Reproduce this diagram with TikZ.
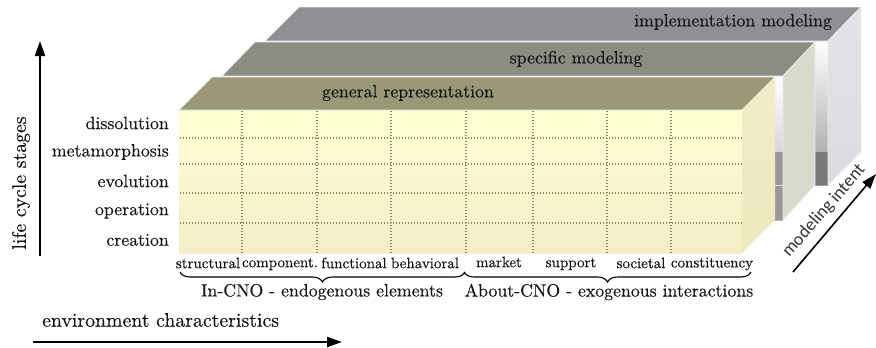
\documentclass[tikz,border=0pt]{standalone}
\usepackage{fontspec}
\newfontfamily\calib{Carlito}
\newfontfamily\rmh{lmroman10-regular.otf}[FakeBold=0.25]
\usetikzlibrary{arrows.meta,decorations.pathreplacing}
\definecolor{txt}{HTML}{141414}
\definecolor{fronttop}{HTML}{FFFFD4}
\definecolor{frontbot}{HTML}{F3EEC6}
\definecolor{frontside}{HTML}{EDE9BE}
\definecolor{gentop}{HTML}{9B9878}
\definecolor{spectop}{HTML}{8B8D82}
\definecolor{specside}{HTML}{D6DBCB}
\definecolor{impltop}{HTML}{918F94}
\definecolor{implside}{HTML}{DCDBE0}
\definecolor{gridc}{HTML}{8C845C}
\begin{document}
\begin{tikzpicture}[x=1pt,y=-1pt,
  lbl/.style={text=txt,inner sep=0pt,font=\rmh\fontsize{17.8}{18}\selectfont},
  rowlbl/.style={lbl,anchor=east},
  collbl/.style={text=txt,inner sep=0pt,font=\rmh\fontsize{15}{15}\selectfont},
  axislbl/.style={text=txt,inner sep=0pt,font=\rmh\fontsize{19.8}{20}\selectfont},
  gridline/.style={draw=gridc,line width=1.3pt,dash pattern=on 1.2pt off 1.8pt},
  edge/.style={draw=white!85!gray,line width=0.8pt},
  axisarrow/.style={draw=black,line width=2pt,-{Triangle[length=15pt,width=10pt]}},
  bracedeco/.style={draw=black,line width=1.1pt,decorate,decoration={brace,mirror,amplitude=10pt}}]
\useasboundingbox (0,0) rectangle (876,348);

% ---------- implementation box (back) ----------
\shade[top color=white,bottom color=gray!80] (265,41) rectangle (828,185);
\fill[gray!95!black] (815,152) rectangle (828,185);
\fill[impltop,edge] (265,41) -- (828,41) -- (861,7) -- (299,7) -- cycle;
\shade[top color=implside!80!white,bottom color=implside,edge] (828,41) -- (861,7) -- (861,152) -- (828,185) -- cycle;

% ---------- specific box ----------
\shade[top color=white,bottom color=gray!60] (222,76) rectangle (783,220);
\fill[gray!110!black!90] (775,152) rectangle (783,220);
\draw[white!80!gray,line width=0.8pt] (775,185) -- (783,185);
\fill[spectop,edge] (222,76) -- (783,76) -- (815,42) -- (255,42) -- cycle;
\fill[specside,edge] (783,76) -- (815,42) -- (815,185) -- (783,220) -- cycle;

% ---------- general box (front) ----------
\shade[top color=fronttop,bottom color=frontbot] (179,110) rectangle (742,253);
\fill[gentop,edge] (179,110) -- (742,110) -- (775,77) -- (212,77) -- cycle;
\shade[top color=frontside!85!white,bottom color=frontside] (742,110) -- (775,77) -- (775,220) -- (742,253) -- cycle;

% grid
\foreach \yy in {138,164,193,223} \draw[gridline] (180,\yy) -- (742,\yy);
\foreach \xx in {242,317,391,466,533,607,671} \draw[gridline] (\xx,111) -- (\xx,253);

% face titles
\node[lbl] (gen) at (408,93) {general representation};
\node[lbl] (spec) at (576,59) {specific modeling};
\node[lbl] (impl) at (733,22) {implementation modeling};

% row labels
\node[rowlbl] (r5) at (169,123) {dissolution};
\node[rowlbl] (r4) at (169,152) {metamorphosis};
\node[rowlbl] (r3) at (169,181) {evolution};
\node[rowlbl] (r2) at (169,211) {operation};
\node[rowlbl] (r1) at (169,240) {creation};

% column labels
\node[collbl] (c1) at (208,263) {structural};
\node[collbl] (c2) at (280,264) {component.};
\node[collbl] (c3) at (354,263) {functional};
\node[collbl] (c4) at (425,263) {behavioral};
\node[collbl] (c5) at (499,262) {market};
\node[collbl] (c6) at (571,264) {support};
\node[collbl] (c7) at (641,263) {societal};
\node[collbl] (c8) at (712,264) {constituency};

% braces
\coordinate (b1s) at (180,272);
\coordinate (b1e) at (465,272);
\coordinate (b2s) at (464,272);
\coordinate (b2e) at (751,272);
\draw[bracedeco] (b1s) -- (b1e);
\draw[bracedeco] (b2s) -- (b2e);
\node[lbl] (g1) at (322,292) {In-CNO - endogenous elements};
\node[lbl] (g2) at (609,292) {About-CNO - exogenous interactions};

% axes
\coordinate (ya) at (40,256);
\coordinate (yb) at (40,41);
\draw[axisarrow] (ya) -- (yb);
\node[axislbl,rotate=90] (ylab) at (21,183) {life cycle stages};

\coordinate (xa) at (33,342);
\coordinate (xb) at (342,342);
\draw[axisarrow] (xa) -- (xb);
\node[axislbl,anchor=west] (xlab) at (42,320) {environment characteristics};

\coordinate (za) at (793,272);
\coordinate (zb) at (876,174);
\draw[axisarrow,line width=1.6pt] (za) -- (zb);
\node[inner sep=0pt,rotate=49,text=black!80,font=\calib\fontsize{18}{18}\selectfont] (zlab) at (824,211) {modeling intent};
\end{tikzpicture}
\end{document}
